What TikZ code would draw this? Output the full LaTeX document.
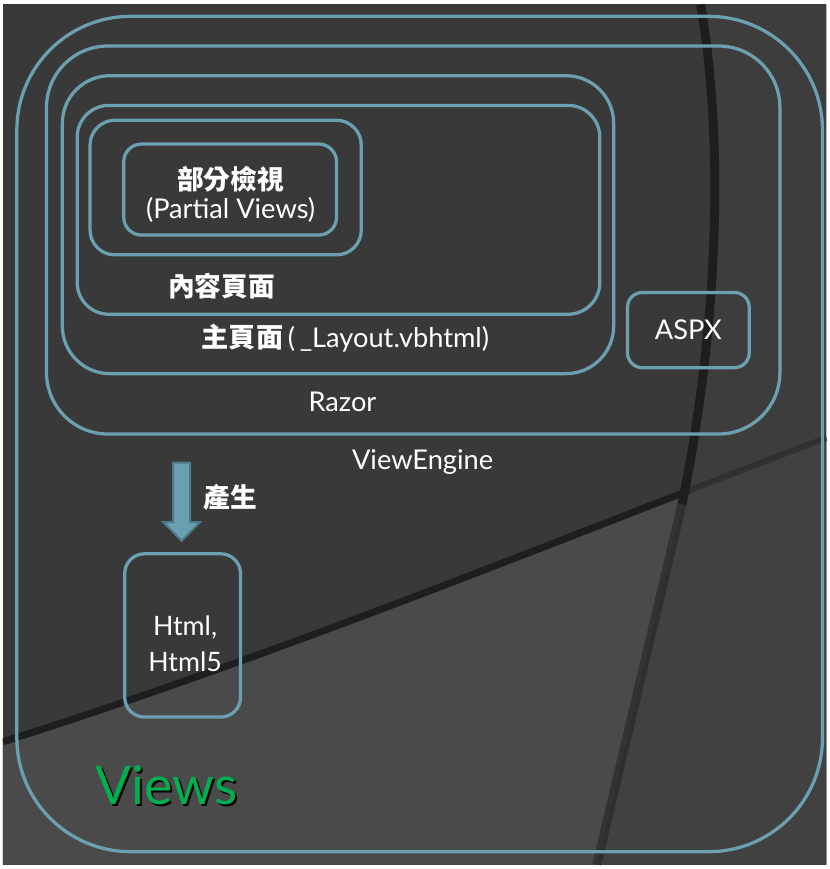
\documentclass[tikz,border=0pt]{standalone}
\usepackage{fontspec}
\setmainfont{Lato}
\newfontfamily\cjk{Noto Sans CJK TC}
\definecolor{bgflat}{HTML}{393939}
\definecolor{bgtex}{HTML}{3D3D3D}
\definecolor{bglowr}{HTML}{414141}
\definecolor{bglowl}{HTML}{4A4A4A}
\definecolor{band}{HTML}{1E1E1E}
\definecolor{teal}{HTML}{6BA0B1}
\definecolor{tealdark}{HTML}{4B7B8A}
\definecolor{vgreen}{HTML}{00B050}
\tikzset{
  box/.style={draw=teal, line width=3.3pt, rectangle, inner sep=0pt, outer sep=0pt},
  lbl/.style={text=white, font=\fontsize{27.5}{30}\selectfont, inner sep=0pt},
  cjklbl/.style={text=white, font=\cjk\bfseries\fontsize{27}{30}\selectfont, inner sep=0pt},
}
\begin{document}
\begin{tikzpicture}[x=1pt,y=-1pt]
% background
\fill[bgflat] (0,0) rectangle (832,869);
\fill[bgtex] (705,0) .. controls (735,180) and (712,380) .. (686,505) -- (600,869) -- (832,869) -- (832,0) -- cycle;
\fill[bglowr] (0,745) .. controls (300,650) and (600,525) .. (832,438) -- (832,869) -- (0,869) -- cycle;
\begin{scope}
  \clip (0,0) -- (705,0) .. controls (735,180) and (712,380) .. (686,505) -- (600,869) -- (0,869) -- cycle;
  \fill[bglowl] (0,745) .. controls (300,650) and (600,525) .. (832,438) -- (832,869) -- (0,869) -- cycle;
  \draw[band, line width=7pt] (0,745) .. controls (300,650) and (600,525) .. (832,438);
\end{scope}
\draw[band, line width=6pt, opacity=0.45] (0,745) .. controls (300,650) and (600,525) .. (832,438);
\draw[band, line width=9pt] (705,0) .. controls (735,180) and (712,380) .. (686,505);
\draw[band, line width=9pt, opacity=0.5] (686,505) -- (600,869);
% boxes
\node[box, minimum width=814pt, minimum height=844pt, rounded corners=115pt] (views) at (421,434) {};
\node[box, minimum width=741pt, minimum height=392pt, rounded corners=62pt] (engine) at (414.5,238) {};
\node[box, minimum width=557pt, minimum height=301pt, rounded corners=48pt] (razor) at (338.5,222.5) {};
\node[box, minimum width=528pt, minimum height=211pt, rounded corners=32pt] (content) at (339,207.5) {};
\node[box, minimum width=274pt, minimum height=136pt, rounded corners=25pt] (pouter) at (225,185) {};
\node[box, minimum width=215pt, minimum height=92pt, rounded corners=18pt] (partial) at (229.5,187) {};
\node[box, minimum width=123pt, minimum height=76pt, rounded corners=15pt] (aspx) at (692.5,329) {};
\node[box, minimum width=117pt, minimum height=165pt, rounded corners=20pt] (html) at (181.5,637.5) {};
% labels
\node[cjklbl] (tpart) at (230,177) {部分檢視};
\node[lbl] (tpartial) at (230,208) {(Partial Views)};
\node[cjklbl] (tcontent) at (221,285) {內容頁面};
\node[lbl] (tlayout) at (346,337) {{\cjk\bfseries 主頁面}\,(\,\_Layout.vbhtml)};
\node[lbl] (trazor) at (343,402) {Razor};
\node[lbl] (tengine) at (424,462) {ViewEngine};
\node[lbl] (taspx) at (692.5,329) {ASPX};
\node[cjklbl] (tgen) at (230,498) {產生};
\node[lbl, align=center, font=\fontsize{27}{37}\selectfont] (thtml) at (184,646) {Html,\\Html5};
% arrow
\coordinate (atop) at (180.5,463);
\coordinate (atip) at (180.5,542);
\filldraw[fill=teal, draw=tealdark, line width=2pt, line join=miter]
  ([xshift=-8.5pt]atop) -- ([xshift=8.5pt]atop) -- ([xshift=8.5pt,yshift=19pt]atip)
  -- ([xshift=18.5pt,yshift=19pt]atip) -- (atip) -- ([xshift=-18.5pt,yshift=19pt]atip)
  -- ([xshift=-8.5pt,yshift=19pt]atip) -- cycle;
% Views title with shadow
\node[text=vgreen, font=\fontsize{54}{60}\selectfont, inner sep=0pt] (tviews) at (165,790)
  {\rlap{\hspace{2.5pt}\raisebox{-2.5pt}{\textcolor{black}{Views}}}Views};
\end{tikzpicture}
\end{document}
